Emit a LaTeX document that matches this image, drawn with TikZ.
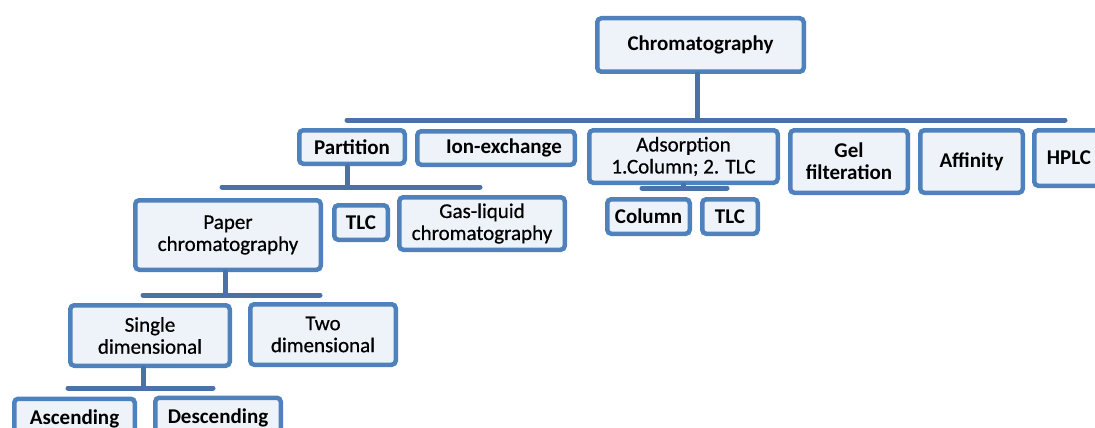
\documentclass[tikz,border=0pt]{standalone}
\usepackage{fontspec}
\setmainfont{Carlito}
\newfontfamily\medfont[FakeBold=0.6]{Carlito}
\usetikzlibrary{calc}
\definecolor{boxblue}{HTML}{4F81BD}
\definecolor{boxfill}{HTML}{EEF2F9}
\definecolor{linkblue}{HTML}{4A71A8}
\tikzstyle{catbox}=[draw=boxblue,line width=4.5pt,rounded corners=4pt,fill=boxfill,align=center,inner sep=0pt,text=black,font=\fontsize{21}{22}\selectfont\bfseries]
\tikzstyle{plaincatbox}=[catbox,font=\fontsize{21}{22}\selectfont\medfont]
\tikzstyle{link}=[draw=linkblue,line width=5pt,line cap=round]

\begin{document}
\begin{tikzpicture}[x=1pt,y=-1pt]
    \clip (0,0) rectangle (1095,428);
    % Draw the chromatography tree
    % First the boxes with one-word labels
    \foreach \pos/\name/\w/\h/\txt in {{(700.5,45)/chrom/206.5/53.5/Chromatography},
                            {(352,147)/part/105.5/33.5/Partition}, {(496,148)/ion/157.5/33.5/\hspace{16pt}Ion-exchange},
                            {(849,161.5)/gel/117.5/62.5/{Gel\\filteration}}, {(971.5,161.5)/aff/102.5/62.5/Affinity},
                            {(1069,158)/hplc/69.5/55.5/HPLC}, {(648.5,216.5)/col/82.5/34.5/Column},
                            {(730,216.5)/tlcb/55.5/34.5/TLC}, {(361,222.5)/tlca/53.5/34.5/TLC},
                            {(74.5,419)/asc/120.5/40.5/Ascending}, {(218,418)/desc/125.5/40.5/Descending}}
        \node[catbox,minimum width=\w pt,minimum height=\h pt] (\name) at \pos {\txt};
    % Then the boxes set in the lighter face
    \foreach \pos/\name/\w/\h/\txt in {{(683.5,156.5)/ads/188.5/52.5/{Adsorption\\1.Column; 2. TLC}},
                            {(228,235)/paper/185.5/69.5/{Paper\\chromatography}},
                            {(482,223.5)/gas/165.5/52.5/{Gas-liquid\\chromatography}},
                            {(150,335.5)/single/159.5/60.5/{Single\\dimensional}},
                            {(323,334.5)/two/145.5/60.5/{Two\\dimensional}}}
        \node[plaincatbox,minimum width=\w pt,minimum height=\h pt] (\name) at \pos {\txt};

    % Bus bars under each parent
    \foreach \name/\x/\y/\l/\r in {b1/697/120/347/1065, b2/347/187/222/480, b3/683.5/188/642/727,
                                 b4/225/295/143/320, b5/143/388/68/213}
    {
        \coordinate (\name) at (\x,\y);
        \coordinate (\name w) at (\l,\y);
        \coordinate (\name e) at (\r,\y);
    }
    % Connect parents to their bars
    \foreach \source/\bar in {chrom/b1, part/b2, ads/b3, paper/b4, single/b5}
    {
        \path[link] (\bar |- \source.south) -- (\bar);
        \path[link] (\bar w) -- (\bar e);
    }
\end{tikzpicture}
\end{document}
